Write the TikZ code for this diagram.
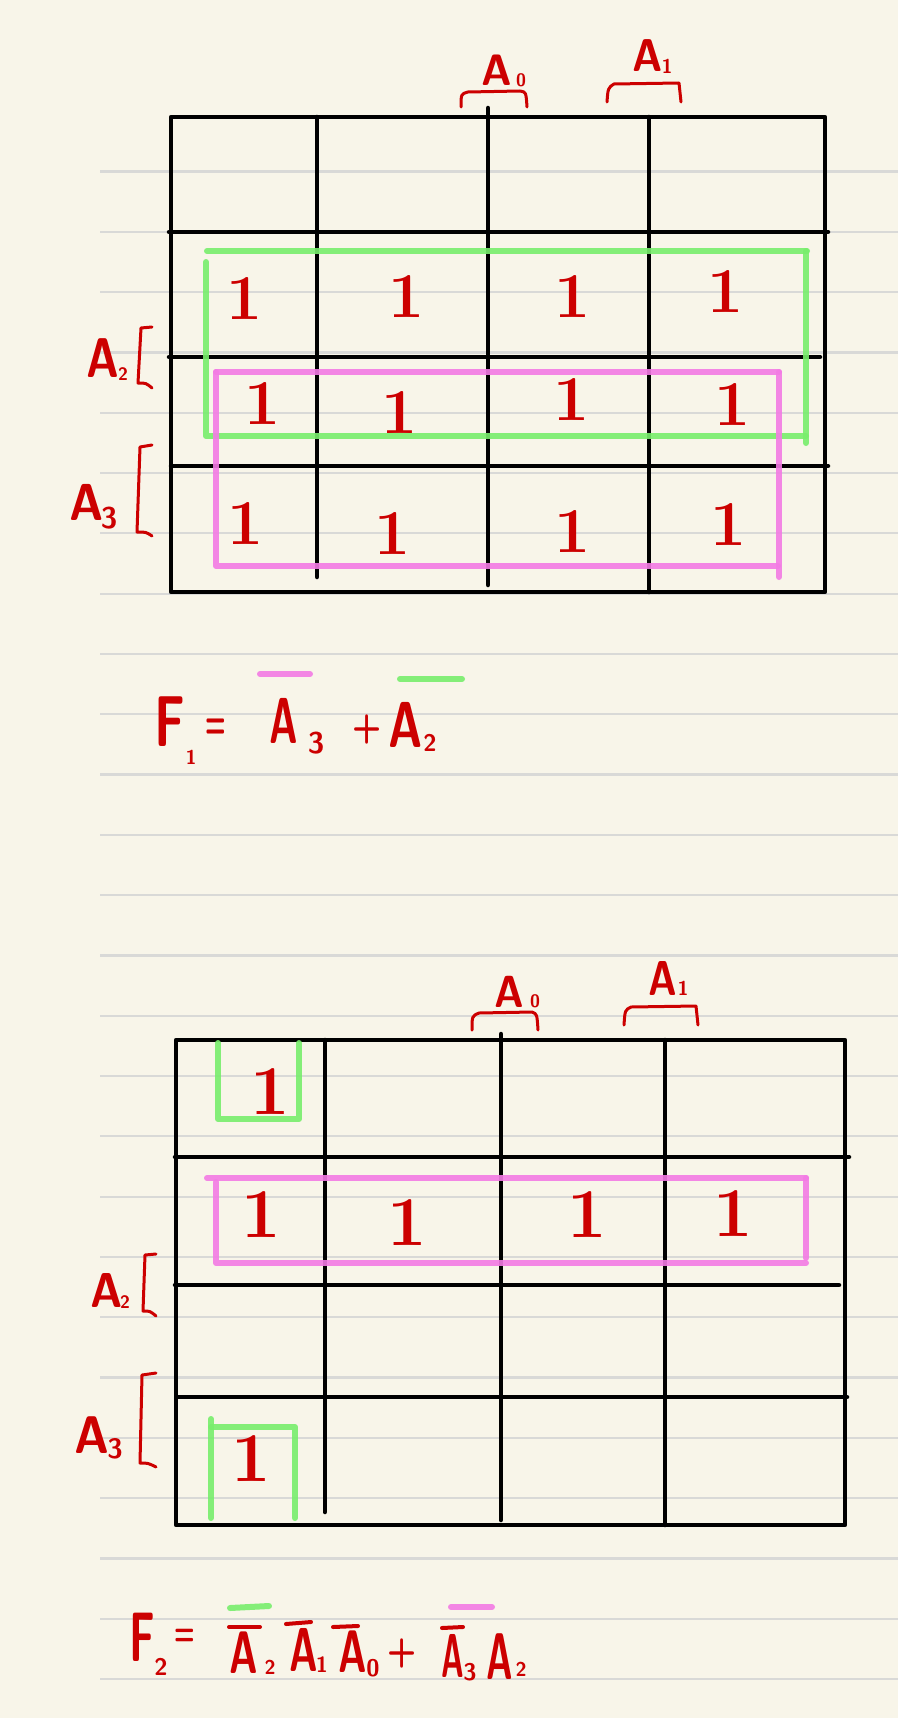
\documentclass[tikz,border=0pt]{standalone}
\usepackage{fontspec}
\usepackage{graphicx}
\definecolor{paper}{HTML}{F8F5E9}
\definecolor{ruling}{HTML}{D9D9D7}
\definecolor{hred}{HTML}{CC0000}
\definecolor{hgreen}{HTML}{78EE6C}
\definecolor{hpink}{HTML}{F37BE4}
\newcommand\hnarrow[2]{\scalebox{#1}[1]{#2}}
\begin{document}
\begin{tikzpicture}[x=1pt,y=-1pt,
  gridline/.style={line width=4.5pt,line cap=round,line join=round},
  ruled/.style={draw=ruling,line width=2.2pt},
  hlg/.style={draw=hgreen,line width=6pt,line cap=round,line join=round,opacity=0.9},
  hlp/.style={draw=hpink,line width=6pt,line cap=round,line join=round,opacity=0.9},
  redtxt/.style={text=hred,inner sep=0pt,outer sep=0pt},
  one/.style={redtxt,font=\bfseries\fontsize{#1}{#1}\selectfont},
  ltr/.style={redtxt,font=\sffamily\bfseries\fontsize{#1}{#1}\selectfont},
  brk/.style={draw=hred,line width=3pt,line cap=round,line join=round},
  ovl/.style={draw=hred,line width=4pt,line cap=round}]

\fill[paper] (0,0) rectangle (898,1718);
\useasboundingbox (0,0) rectangle (898,1718);
\foreach \k in {0,...,25} \draw[ruled] (100,{171.5+60.3*\k}) -- (898,{171.5+60.3*\k});

% ---------- top map ----------
\draw[gridline] (171,117) rectangle (825,592);
\draw[gridline] (169,232) -- (828,232);
\draw[gridline] (169,357) -- (820,357);
\draw[gridline] (171,466) -- (828,466);
\draw[gridline] (317,117) -- (317,577);
\draw[gridline] (488,108) -- (488,585);
\draw[gridline] (649,117) -- (649,592);

\draw[hlg] (207,251) -- (807,251);
\draw[hlg] (206,262) -- (206,436) -- (806,436);
\draw[hlg] (806,251) -- (806,443);
\draw[hlp] (216,372) -- (779,372);
\draw[hlp] (216,372) -- (216,566) -- (778,566);
\draw[hlp] (779,372) -- (779,577);

\node[one=64] (t21) at (245,299) {1};
\node[one=64] (t22) at (407,297) {1};
\node[one=64] (t23) at (573,297) {1};
\node[one=64] (t24) at (726,292) {1};
\node[one=64] (t31) at (263,404) {1};
\node[one=64] (t32) at (400,413) {1};
\node[one=64] (t33) at (572,400) {1};
\node[one=64] (t34) at (733,405) {1};
\node[one=64] (t41) at (246,524) {1};
\node[one=64] (t42) at (393,534) {1};
\node[one=64] (t43) at (573,532) {1};
\node[one=64] (t44) at (729,525) {1};

\node[ltr=44] (tA0) at (497,70) {\hnarrow{0.95}{A}};
\node[ltr=18] (tA0s) at (521,80) {0};
\draw[brk] (461,107) .. controls (461,94) .. (468,92) -- (520,91) .. controls (526,92) .. (527,107);
\node[ltr=46] (tA1) at (648,56) {\hnarrow{0.9}{A}};
\node[ltr=20] (tA1s) at (667,66) {1};
\draw[brk] (607,102) .. controls (608,88) .. (614,84) -- (679,83) -- (681,102);
\node[ltr=56] (tA2) at (103,358) {\hnarrow{0.8}{A}};
\node[ltr=18] (tA2s) at (123,374) {2};
\draw[brk] (152,327) -- (141,328) -- (138,383) .. controls (146,383) .. (152,388);
\node[ltr=52] (tA3) at (87,502) {\hnarrow{0.9}{A}};
\node[ltr=30] (tA3s) at (109,518) {3};
\draw[brk] (152,445) -- (140,447) -- (137,532) .. controls (146,532) .. (152,536);

% ---------- F1 ----------
\node[ltr=72] (f1F) at (170,722) {\hnarrow{0.7}{F}};
\node[ltr=20] (f1Fs) at (191,757) {1};
\node[ltr=48] (f1eq) at (216,729) {\hnarrow{0.5}{=}};
\node[ltr=65] (f1A3) at (283.5,720.5) {\hnarrow{0.6}{A}};
\node[ltr=30] (f1A3s) at (316,743) {3};
\node[ltr=40] (f1plus) at (367,729) {\hnarrow{0.85}{+}};
\node[ltr=65] (f1A2) at (406,724.5) {\hnarrow{0.72}{A}};
\node[ltr=24] (f1A2s) at (430,742.5) {2};
\draw[hlp] (260,674) -- (310,674);
\draw[hlg] (400,679) -- (462,679);

% ---------- bottom map ----------
\draw[gridline] (176,1040) rectangle (845,1525);
\draw[gridline] (175,1157) -- (849,1157);
\draw[gridline] (175,1285) -- (839,1285);
\draw[gridline] (177,1397) -- (847,1397);
\draw[gridline] (325,1040) -- (325,1512);
\draw[gridline] (501,1034) -- (501,1520);
\draw[gridline] (665,1040) -- (665,1525);

\draw[hlg] (218,1043) -- (218,1119) -- (299,1119) -- (299,1043);
\draw[hlp] (207,1178) -- (806,1178);
\draw[hlp] (216,1182) -- (216,1263) -- (806,1263);
\draw[hlp] (806,1178) -- (806,1258);
\draw[hlg] (211,1419) -- (211,1518);
\draw[hlg] (211,1427) -- (295,1427) -- (295,1518);

\node[one=70] (b11) at (270,1092) {1};
\node[one=70] (b21) at (261,1215) {1};
\node[one=70] (b22) at (407,1223) {1};
\node[one=70] (b23) at (587,1215) {1};
\node[one=70] (b24) at (733,1214) {1};
\node[one=70] (b41) at (251,1459) {1};

\node[ltr=45] (bA0) at (509.5,991.5) {\hnarrow{0.9}{A}};
\node[ltr=18] (bA0s) at (535,1001) {0};
\draw[brk] (472,1030) .. controls (472,1016) .. (479,1013) -- (532,1012) .. controls (537,1014) .. (538,1030);
\node[ltr=49] (bA1) at (663,978) {\hnarrow{0.8}{A}};
\node[ltr=20] (bA1s) at (683,988) {1};
\draw[brk] (624,1025) .. controls (625,1010) .. (631,1007) -- (696,1006) -- (698,1025);
\node[ltr=49] (bA2) at (107,1290) {\hnarrow{0.9}{A}};
\node[ltr=18] (bA2s) at (125,1302) {2};
\draw[brk] (156,1254) -- (145,1255) -- (143,1311) .. controls (150,1311) .. (156,1316);
\node[ltr=53] (bA3) at (92,1435) {\hnarrow{0.9}{A}};
\node[ltr=28] (bA3s) at (115,1449) {3};
\draw[brk] (156,1373) -- (142,1375) -- (140,1463) .. controls (148,1463) .. (156,1467);

% ---------- F2 ----------
\node[ltr=70] (f2F) at (142,1637.5) {\hnarrow{0.6}{F}};
\node[ltr=24] (f2Fs) at (161,1667) {2};
\node[ltr=40] (f2eq) at (185,1637) {\hnarrow{0.6}{=}};
\node[ltr=60] (f2a) at (243.5,1653) {\hnarrow{0.65}{A}};
\node[ltr=20] (f2as) at (270,1667) {2};
\draw[ovl] (229,1627) -- (260,1627);
\draw[hlg] (230,1608) -- (269,1606);
\node[ltr=62] (f2b) at (303.5,1650) {\hnarrow{0.63}{A}};
\node[ltr=22] (f2bs) at (322,1665) {1};
\draw[ovl] (286,1624) -- (311,1622);
\node[ltr=60] (f2c) at (352.5,1652) {\hnarrow{0.65}{A}};
\node[ltr=24] (f2cs) at (373,1668) {0};
\draw[ovl] (333,1627) -- (358,1626);
\node[ltr=40] (f2plus) at (402,1653) {\hnarrow{0.85}{+}};
\node[ltr=62] (f2d) at (452.5,1656) {\hnarrow{0.5}{A}};
\node[ltr=24] (f2ds) at (470,1672) {3};
\draw[ovl] (442,1628) -- (463,1627);
\draw[hlp] (451,1607) -- (492,1607);
\node[ltr=66] (f2e) at (500,1656.5) {\hnarrow{0.55}{A}};
\node[ltr=20] (f2es) at (521,1669) {2};
\end{tikzpicture}
\end{document}
